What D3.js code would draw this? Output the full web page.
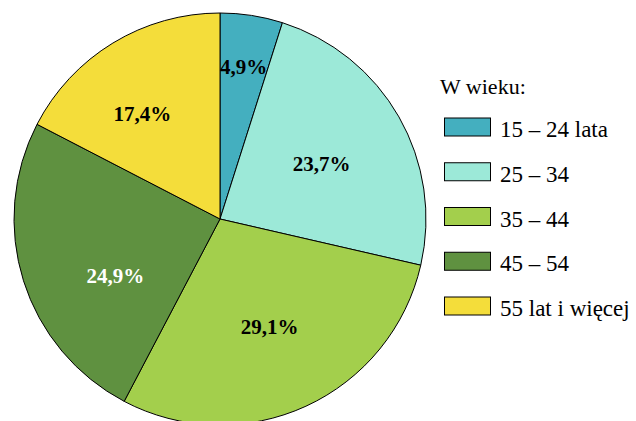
<!DOCTYPE html>
<html>
<head>
<meta charset="utf-8">
<script src="https://cdn.jsdelivr.net/npm/d3@7"></script>
<style>
  body { margin: 0; background: #fff; }
  svg { display: block; }
</style>
</head>
<body>
<div id="chart"></div>
<script>
// data
const ageGroups = ["15 – 24 lata", "25 – 34", "35 – 44", "45 – 54", "55 lat i więcej"];
const shares = [4.9, 23.7, 29.1, 24.9, 17.4];
const sliceColors = ["#44afbf", "#9ce9d8", "#a3cf4c", "#5f9140", "#f4dd3a"];
const labelColors = ["#000", "#000", "#000", "#fff", "#000"];
const legendTitle = "W wieku:";

const width = 636, height = 421;
const cx = 220, cy = 219, radius = 206;
const fontFamily = "Liberation Serif";

// label placement tweaks: [radius, angle shift in degrees]
const labelPlace = [[154, 0], [116, 1], [119, 0], [119, -11], [131, -5]];

const svg = d3.select("#chart")
    .append("svg")
    .attr("width", width)
    .attr("height", height);

const g = svg.append("g")
    .attr("transform", "translate(" + cx + "," + cy + ")");

const pie = d3.pie().sort(null).value(d => d);
const arcs = pie(shares);

const arc = d3.arc().innerRadius(0).outerRadius(radius);

g.selectAll("path")
    .data(arcs)
    .enter()
    .append("path")
    .attr("d", arc)
    .attr("fill", (d, i) => sliceColors[i])
    .attr("stroke", "#000")
    .attr("stroke-width", 1);

// percentage labels
const midAngle = (d, i) => (d.startAngle + d.endAngle) / 2 + labelPlace[i][1] * Math.PI / 180;

g.selectAll("text.pct")
    .data(arcs)
    .enter()
    .append("text")
    .attr("class", "pct")
    .attr("x", (d, i) => labelPlace[i][0] * Math.sin(midAngle(d, i)))
    .attr("y", (d, i) => -labelPlace[i][0] * Math.cos(midAngle(d, i)))
    .attr("dy", "0.35em")
    .attr("text-anchor", "middle")
    .attr("font-family", fontFamily)
    .attr("font-weight", "bold")
    .attr("font-size", 21)
    .attr("fill", (d, i) => labelColors[i])
    .text(d => d3.format(".1f")(d.data).replace(".", ",") + "%");

// legend
const legend = svg.append("g").attr("transform", "translate(444,0)");

legend.append("text")
    .attr("x", -4)
    .attr("y", 94)
    .attr("font-family", fontFamily)
    .attr("font-size", 22)
    .text(legendTitle);

const ly = d3.scalePoint()
    .domain(ageGroups)
    .range([127, 306]);

const item = legend.selectAll("g.item")
    .data(ageGroups)
    .enter()
    .append("g")
    .attr("class", "item")
    .attr("transform", d => "translate(0," + ly(d) + ")");

item.append("rect")
    .attr("x", 0.5)
    .attr("y", -9)
    .attr("width", 46)
    .attr("height", 18)
    .attr("fill", (d, i) => sliceColors[i])
    .attr("stroke", "#000")
    .attr("stroke-width", 1);

item.append("text")
    .attr("x", 56)
    .attr("y", 10)
    .attr("font-family", fontFamily)
    .attr("font-size", 23)
    .text(d => d);
</script>
</body>
</html>
